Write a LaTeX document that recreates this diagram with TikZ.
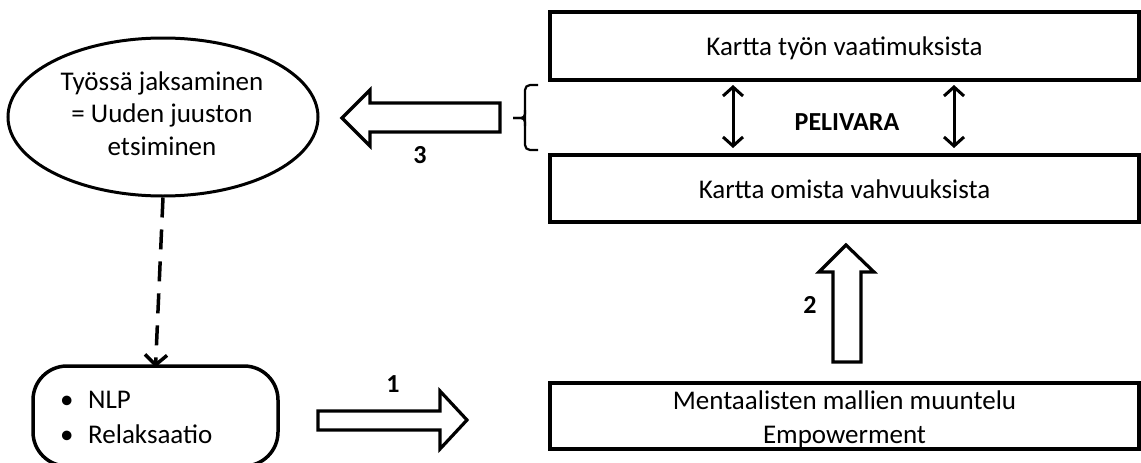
\documentclass[tikz,border=0pt]{standalone}
\usepackage{fontspec}
\setmainfont{Carlito}
\usetikzlibrary{shapes.geometric,arrows.meta}
\begin{document}
\begin{tikzpicture}[x=1pt,y=-1pt,
  txt/.style={font=\fontsize{27}{33}\selectfont,inner sep=0pt},
  lbl/.style={font=\fontsize{26}{30}\selectfont\bfseries,inner sep=0pt,anchor=base},
  box/.style={draw,line width=3.8pt,rectangle,inner sep=0pt},
  blockarrow/.style={draw,line width=3.2pt,line join=miter,fill=white},
  dbl/.style={line width=3pt,{Straight Barb[length=9pt,width=20pt]}-{Straight Barb[length=9pt,width=20pt]}},
]
\useasboundingbox (0,0) rectangle (1141,463);

% right-hand column of maps
\node[box,minimum width=589pt,minimum height=68pt] (top) at (844.5,46) {};
\node[box,minimum width=589pt,minimum height=67pt] (mid) at (844.5,188.5) {};
\node[box,minimum width=589pt,minimum height=66pt] (bot) at (844.5,416) {};
\node[txt,anchor=base] (toptxt) at (844.5,55) {Kartta työn vaatimuksista};
\node[txt,anchor=base] (midtxt) at (844.5,198) {Kartta omista vahvuuksista};
\node[txt,anchor=base] (bottxt1) at (844.5,409) {Mentaalisten mallien muuntelu};
\node[txt,anchor=base] (bottxt2) at (844.5,443) {Empowerment};

% coping ellipse and the tools box
\node[draw,ellipse,line width=3pt,minimum width=310pt,minimum height=158pt,inner sep=0pt] (ell) at (163,117) {};
\node[txt,anchor=base] (ell1) at (162,90) {Työssä jaksaminen};
\node[txt,anchor=base] (ell2) at (162,122.5) {= Uuden juuston};
\node[txt,anchor=base] (ell3) at (162,155) {etsiminen};
\node[draw,rectangle,rounded corners=34pt,line width=3.5pt,minimum width=245pt,minimum height=100pt,inner sep=0pt] (rbox) at (155.5,416) {};
\node[txt,anchor=base west] (tool1) at (60,408) {\makebox[28pt][l]{•}NLP};
\node[txt,anchor=base west] (tool2) at (60,443) {\makebox[28pt][l]{•}Relaksaatio};

% play room between the two maps
\node[lbl] (pel) at (847,130) {PELIVARA};
\coordinate (d1a) at (733,85); \coordinate (d1b) at (733,148);
\coordinate (d2a) at (954,85); \coordinate (d2b) at (954,148);
\draw[dbl] (d1a) -- (d1b);
\draw[dbl] (d2a) -- (d2b);

% brace grouping the two maps
\draw[line width=2.2pt,rounded corners=5pt] (538,85) -- (525,85) -- (525,150) -- (538,150);
\draw[line width=2.2pt,rounded corners=4pt] (513,118) -- (525,118) -- (525,110);
\draw[line width=2.2pt,rounded corners=4pt] (513,118) -- (525,118) -- (525,126);

% dashed link from the ellipse to the tools
\draw[line width=3.5pt,dash pattern=on 20pt off 12pt,-{Straight Barb[length=10pt,width=22pt]}]
  (ell.south) -- ([yshift=-3pt]rbox.north);

% block arrow 1 (tools -> mental models)
\draw[blockarrow] (318,411) -- (440,411) -- (440,391) -- (467,420) -- (440,449) -- (440,430) -- (318,430) -- cycle;
\node[lbl] (n1) at (393,392) {1};

% block arrow 2 (mental models -> strengths)
\draw[blockarrow] (833,362) -- (833,272) -- (819,272) -- (846,245) -- (874,272) -- (861,272) -- (861,362) -- cycle;
\node[lbl] (n2) at (810,313) {2};

% block arrow 3 (maps -> coping)
\draw[blockarrow] (500,103) -- (370,103) -- (370,90) -- (342,118) -- (370,146) -- (370,132) -- (500,132) -- cycle;
\node[lbl] (n3) at (420,163) {3};
\end{tikzpicture}
\end{document}
